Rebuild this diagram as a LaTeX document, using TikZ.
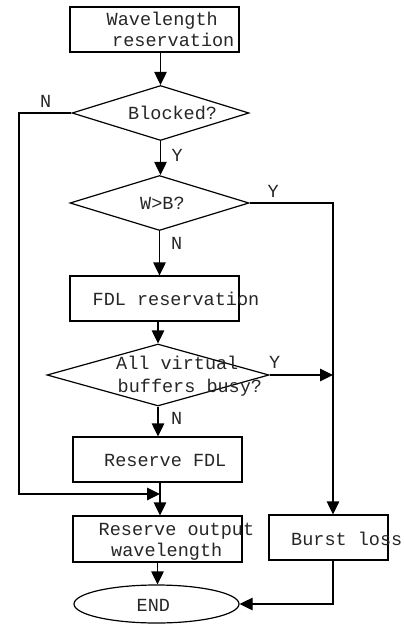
\documentclass[tikz,border=0pt]{standalone}
\usepackage{fontspec}
\setmonofont{Liberation Mono}
\usetikzlibrary{arrows.meta,shapes.geometric}
\tikzset{
  boxnode/.style={draw, line width=1.2bp, rectangle, inner sep=0pt},
  decnode/.style={draw, line width=1.2bp, diamond, inner sep=0pt},
  endnode/.style={draw, line width=1.2bp, ellipse, inner sep=0pt},
  txt/.style={anchor=base west, inner sep=0pt, font=\ttfamily\fontsize{18.5bp}{20bp}\selectfont, text=black!85},
  conn/.style={line width=1.2bp},
  arr/.style={line width=1.2bp, -{Triangle[width=12.5bp,length=13bp]}},
}
\begin{document}
\begin{tikzpicture}[x=1bp,y=-1bp]
\useasboundingbox (0,0) rectangle (403,629);
% shapes
\node[boxnode, minimum width=169bp, minimum height=45bp] (wr) at (154.5,29.5) {};
\node[decnode, minimum width=177bp, minimum height=55bp] (blk) at (160.5,113) {};
\node[decnode, minimum width=179bp, minimum height=55bp] (wb) at (159.5,203) {};
\node[boxnode, minimum width=169bp, minimum height=45bp] (fdlr) at (154.5,298.5) {};
\node[decnode, minimum width=222bp, minimum height=62bp] (av) at (158,375) {};
\node[boxnode, minimum width=169bp, minimum height=45bp] (rfdl) at (157.5,459.5) {};
\node[boxnode, minimum width=169bp, minimum height=46bp] (rout) at (157.5,539) {};
\node[boxnode, minimum width=119bp, minimum height=45bp] (burst) at (328.5,537.5) {};
\node[endnode, minimum width=165bp, minimum height=38bp] (end) at (156.5,604) {};
% helper coordinates
\coordinate (nl) at (19,113);
\coordinate (join) at (160,494);
\coordinate (bx) at (333,375);
% texts
\node[txt] (t1) at (106.5,26) {Wavelength};
\node[txt] (t2) at (112,46.5) {reservation};
\node[txt] (t3) at (128,120) {Blocked?};
\node[txt] (t4) at (140,209.5) {W>B?};
\node[txt] (t5) at (92.5,305) {FDL reservation};
\node[txt] (t6) at (116,369) {All virtual};
\node[txt] (t7) at (117.5,392) {buffers busy?};
\node[txt] (t8) at (104,466.5) {Reserve FDL};
\node[txt] (t9) at (98.5,535.5) {Reserve output};
\node[txt] (t10) at (111,556.5) {wavelength};
\node[txt] (t11) at (291,545) {Burst loss};
\node[txt] (t12) at (136.5,611.5) {END};
% labels
\node[txt] (l1) at (40,108) {N};
\node[txt] (l2) at (171.5,162) {Y};
\node[txt] (l3) at (267.5,197) {Y};
\node[txt] (l4) at (171,249) {N};
\node[txt] (l5) at (269,368) {Y};
\node[txt] (l6) at (171,424) {N};
% connectors
\draw[arr] (wr.south -| blk.north) -- (blk.north);
\draw[arr] (blk.south) -- (blk.south |- wb.north);
\draw[arr] (wb.south) -- (wb.south |- fdlr.north);
\draw[arr] (fdlr.south -| av.north) -- (av.north);
\draw[arr] (av.south) -- (av.south |- rfdl.north);
\draw[arr] (rfdl.south -| join) -- (join |- rout.north);
\draw[arr] (blk.west) -- (nl) -- (nl |- join) -- (join);
\draw[arr] (rout.south) -- (rout.south |- end.north);
\draw[arr] (wb.east) -- (wb.east -| bx) -- (bx |- burst.north);
\draw[arr] (av.east) -- (bx);
\draw[arr] (bx |- burst.south) |- (end.east);
\end{tikzpicture}
\end{document}
